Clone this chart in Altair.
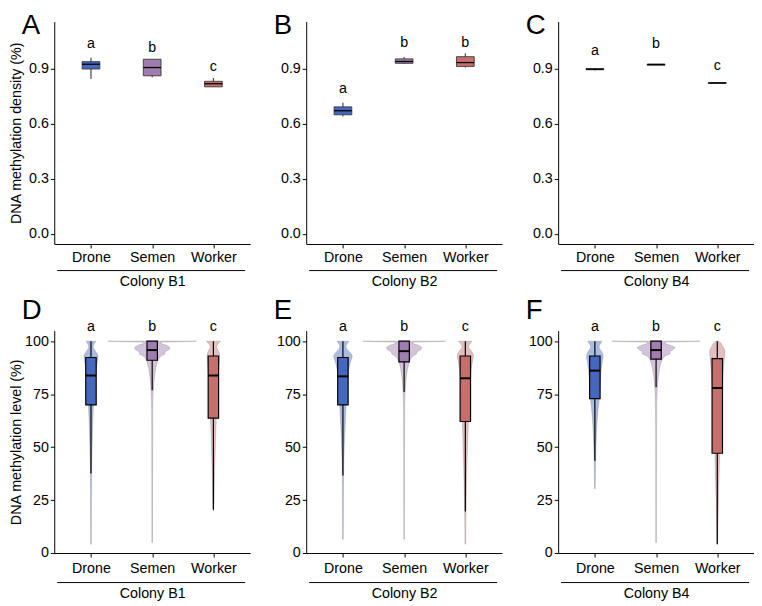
import altair as alt
import pandas as pd

FONT = "Liberation Sans"

categories = ["Drone", "Semen", "Worker"]
colonies = ["Colony B1", "Colony B2", "Colony B4"]
tags_top = ["A", "B", "C"]
tags_bottom = ["D", "E", "F"]
colors = ["#4468bf", "#a07db0", "#c6706e"]

# ---- Top row: DNA methylation density (box statistics), order B1(D,S,W), B2(D,S,W), B4(D,S,W)
dens_lo = [0.843, 0.852, 0.800, 0.639, 0.926, 0.905, 0.889, 0.917, 0.818]
dens_q1 = [0.897, 0.860, 0.800, 0.648, 0.928, 0.911, 0.893, 0.918, 0.819]
dens_med = [0.923, 0.905, 0.817, 0.670, 0.938, 0.932, 0.896, 0.921, 0.821]
dens_q3 = [0.937, 0.950, 0.830, 0.691, 0.952, 0.964, 0.899, 0.924, 0.823]
dens_hi = [0.959, 0.950, 0.848, 0.714, 0.962, 0.982, 0.902, 0.925, 0.824]
dens_letters = ["a", "b", "c", "a", "b", "b", "a", "b", "c"]
dens_letter_y = [1.009, 0.991, 0.884, 0.768, 1.018, 1.018, 0.973, 1.009, 0.892]

# ---- Bottom row: DNA methylation level (box statistics)
lvl_lo = [37.5, 76.8, 20.4, 36.6, 76.0, 19.6, 43.6, 78.3, 4.2]
lvl_q1 = [69.9, 91.0, 63.7, 69.9, 90.2, 62.1, 72.9, 91.5, 47.1]
lvl_med = [83.8, 95.8, 83.8, 83.4, 95.3, 82.5, 86.1, 95.8, 77.9]
lvl_q3 = [92.3, 100.0, 93.0, 92.3, 100.0, 93.0, 93.0, 100.0, 91.8]
lvl_hi = [100.0, 100.0, 100.0, 100.0, 100.0, 100.0, 100.0, 100.0, 100.0]
lvl_letters = ["a", "b", "c", "a", "b", "c", "a", "b", "c"]
lvl_letter_y = [104.6, 104.6, 104.6, 104.6, 104.6, 104.6, 104.6, 104.6, 104.6]

# ---- Violin profiles: half-widths (density) read at these methylation levels
vio_levels = [100, 99.6, 99, 98, 97, 96, 95, 94, 93, 92, 90, 87, 84, 80, 76,
              72, 68, 64, 60, 55, 50, 45, 40, 35, 30, 25, 20, 15, 10, 5]
vio_tail_end = [4.2, 5.0, 20.0, 6.5, 6.5, 4.2, 30.4, 5.0, 4.2]

vio_b1_drone = [4.7, 4.5, 3.5, 2.5, 2.2, 3.5, 5.0, 6.5, 7.2, 7.0, 6.3, 5.5, 5.0, 4.5, 3.8,
                3.0, 2.4, 2.0, 1.7, 1.4, 1.1, 0.9, 0.7, 0.6, 0.5, 0.45, 0.4, 0.4, 0.35, 0.3]
vio_b1_semen = [45, 10, 8, 15, 18, 17, 13, 13, 9, 7, 5, 3.5, 2.5, 1.6, 1.0,
                0.7, 0.55, 0.5, 0.45, 0.45, 0.4, 0.4, 0.4, 0.35, 0.35, 0.35, 0.3, 0.3, 0.3, 0.3]
vio_b1_worker = [7.0, 6.5, 5.0, 3.5, 3.2, 4.5, 5.5, 6.3, 6.5, 6.3, 6.0, 5.5, 5.0, 4.7, 4.3,
                 4.0, 3.5, 3.0, 2.6, 2.2, 1.9, 1.6, 1.3, 1.1, 0.9, 0.7, 0.5, 0, 0, 0]
vio_b2_drone = [5.8, 5.5, 4.5, 3.3, 3.2, 4.5, 6.5, 8.5, 9.5, 9.0, 7.5, 6.0, 5.2, 4.6, 4.0,
                3.5, 3.0, 2.6, 2.2, 1.7, 1.3, 1.0, 0.8, 0.6, 0.5, 0.45, 0.4, 0.4, 0.35, 0]
vio_b2_semen = [42, 10, 8, 15, 18, 17, 13, 12.5, 9, 7, 5, 3.5, 2.5, 1.6, 1.0,
                0.7, 0.55, 0.5, 0.45, 0.45, 0.4, 0.4, 0.4, 0.35, 0.35, 0.35, 0.3, 0.3, 0.3, 0]
vio_b2_worker = [6.7, 6.3, 5.0, 3.5, 3.3, 5.0, 6.5, 8.0, 8.3, 8.0, 7.0, 6.0, 5.4, 5.0, 4.6,
                 4.2, 3.8, 3.3, 2.9, 2.5, 2.2, 1.9, 1.6, 1.3, 1.1, 0.9, 0.7, 0.5, 0.4, 0.35]
vio_b4_drone = [7.0, 6.8, 6.0, 4.5, 4.2, 5.5, 7.0, 8.0, 8.3, 8.3, 7.5, 6.5, 6.0, 5.5, 5.0,
                4.3, 3.3, 2.6, 2.0, 1.5, 1.1, 0.8, 0.6, 0.5, 0, 0, 0, 0, 0, 0]
vio_b4_semen = [44.7, 10, 8, 15, 19.5, 17, 14, 14, 9, 7, 5, 3.5, 2.5, 1.6, 1.0,
                0.7, 0.55, 0.5, 0.45, 0.45, 0.4, 0.4, 0.4, 0.35, 0.35, 0.35, 0.3, 0.3, 0.3, 0.3]
vio_b4_worker = [1.5, 2.5, 3.8, 5.0, 6.3, 7.3, 7.7, 7.7, 7.5, 7.2, 6.8, 6.3, 5.8, 5.4, 5.0,
                 4.6, 4.2, 3.8, 3.4, 3.0, 2.6, 2.3, 2.0, 1.7, 1.4, 1.2, 1.0, 0.8, 0.6, 0.4]
vio_widths = [vio_b1_drone, vio_b1_semen, vio_b1_worker,
              vio_b2_drone, vio_b2_semen, vio_b2_worker,
              vio_b4_drone, vio_b4_semen, vio_b4_worker]

# ---- layout constants
W, H = 199, 226
PX = W / 3.2            # pixels per x unit
BW_TOP = 9.0 / PX       # half box width, top row
BW_BOT = 5.3 / PX       # half box width, bottom row
label_expr = "[" + ",".join("'%s'" % c for c in categories) + "][datum.value - 1]"

color_enc = alt.Color("group:N", scale=alt.Scale(domain=categories, range=colors), legend=None)
fill_enc = alt.Fill("group:N", scale=alt.Scale(domain=categories, range=colors), legend=None)


def xenc(field, title, label_pad, title_y):
    return alt.X(field + ":Q",
                 scale=alt.Scale(domain=[0.4, 3.6], nice=False, zero=False),
                 axis=alt.Axis(values=[1, 2, 3], labelExpr=label_expr, title=title,
                               titleY=title_y, titleBaseline="middle",
                               labelPadding=label_pad, tickSize=4))


def yenc(field, title, domain, values, fmt):
    ax = dict(values=values, format=fmt, labelPadding=2, tickSize=4)
    if title:
        ax.update(title=title, titleX=-38.5, titleBaseline="middle")
    else:
        ax.update(title=None)
    return alt.Y(field + ":Q", scale=alt.Scale(domain=domain, nice=False, zero=False),
                 axis=alt.Axis(**ax))


def top_panel(ci):
    s = slice(3 * ci, 3 * ci + 3)
    df = pd.DataFrame({"group": categories, "pos": [1, 2, 3],
                       "lo": dens_lo[s], "q1": dens_q1[s], "med": dens_med[s],
                       "q3": dens_q3[s], "hi": dens_hi[s],
                       "letter": dens_letters[s], "ly": dens_letter_y[s]})
    ytitle = "DNA methylation density (%)" if ci == 0 else None
    X = lambda f: xenc(f, colonies[ci], 3, 38.5)
    Y = lambda f: yenc(f, ytitle, [-0.055, 1.155], [0, 0.3, 0.6, 0.9], ".1f")
    base = alt.Chart(df).transform_calculate(
        xl="datum.pos - %f" % BW_TOP, xr="datum.pos + %f" % BW_TOP)
    whisk = base.mark_rule(color="#222222", strokeWidth=1).encode(x=X("pos"), y=Y("lo"), y2="hi")
    box = base.mark_rect(stroke="#3a3a3a", strokeWidth=0.9).encode(
        x=X("xl"), x2="xr", y=Y("q1"), y2="q3", color=color_enc)
    med = base.mark_rule(color="black", strokeWidth=1.3).encode(x=X("xl"), x2="xr", y=Y("med"))
    let = base.mark_text(font=FONT, fontSize=14.5, color="black", baseline="alphabetic").encode(
        x=X("pos"), y=Y("ly"), text="letter:N")
    tag = alt.Chart(pd.DataFrame({"tag": [tags_top[ci]]})).mark_text(
        font=FONT, fontSize=28, align="left", baseline="alphabetic", color="black").encode(
        x=alt.value(-33), y=alt.value(13), text="tag:N")
    line = alt.Chart(pd.DataFrame({"k": [0]})).mark_rule(color="black", strokeWidth=1).encode(
        x=alt.value(3), x2=alt.value(W - 5), y=alt.value(H + 27))
    return alt.layer(whisk, box, med, let, tag, line).properties(width=W, height=H)


def violin_layer(ci, X, Y):
    rows = []
    seq = 0
    for gi, g in enumerate(categories):
        k = 3 * ci + gi
        tail = vio_tail_end[k]
        pts = [(tail, 0.3)]
        for lv, w in sorted(zip(vio_levels, vio_widths[k])):
            if lv > tail and w > 0:
                pts.append((lv, w))
        # closed outline: up the left side, down the right side
        for lv, w in pts:
            rows.append({"group": g, "pos": gi + 1, "lvl": lv, "w": w, "side": -1, "seq": seq})
            seq += 1
        for lv, w in reversed(pts):
            rows.append({"group": g, "pos": gi + 1, "lvl": lv, "w": w, "side": 1, "seq": seq})
            seq += 1
    vdf = pd.DataFrame(rows)
    return alt.Chart(vdf).transform_calculate(
        xv="datum.pos + datum.side * datum.w / %f" % PX
    ).mark_line(stroke="#808080", strokeOpacity=0.55, strokeWidth=0.6,
                fillOpacity=0.45, interpolate="linear-closed").encode(
        x=X("xv"), y=Y("lvl"), fill=fill_enc, detail="group:N", order=alt.Order("seq:Q"))


def bottom_panel(ci):
    s = slice(3 * ci, 3 * ci + 3)
    df = pd.DataFrame({"group": categories, "pos": [1, 2, 3],
                       "lo": lvl_lo[s], "q1": lvl_q1[s], "med": lvl_med[s],
                       "q3": lvl_q3[s], "hi": lvl_hi[s],
                       "letter": lvl_letters[s], "ly": lvl_letter_y[s]})
    ytitle = "DNA methylation level (%)" if ci == 0 else None
    X = lambda f: xenc(f, colonies[ci], 4.5, 41.5)
    Y = lambda f: yenc(f, ytitle, [0, 105], [0, 25, 50, 75, 100], "d")
    violin = violin_layer(ci, X, Y)
    base = alt.Chart(df).transform_calculate(
        xl="datum.pos - %f" % BW_BOT, xr="datum.pos + %f" % BW_BOT)
    whisk = base.mark_rule(color="black", strokeWidth=1.2).encode(x=X("pos"), y=Y("lo"), y2="hi")
    box = base.mark_rect(stroke="black", strokeWidth=1.2).encode(
        x=X("xl"), x2="xr", y=Y("q1"), y2="q3", color=color_enc)
    med = base.mark_rule(color="black", strokeWidth=2).encode(x=X("xl"), x2="xr", y=Y("med"))
    let = base.mark_text(font=FONT, fontSize=14.5, color="black", baseline="alphabetic").encode(
        x=X("pos"), y=Y("ly"), text="letter:N")
    tag = alt.Chart(pd.DataFrame({"tag": [tags_bottom[ci]]})).mark_text(
        font=FONT, fontSize=28, align="left", baseline="alphabetic", color="black").encode(
        x=alt.value(-33), y=alt.value(-12), text="tag:N")
    line = alt.Chart(pd.DataFrame({"k": [0]})).mark_rule(color="black", strokeWidth=1).encode(
        x=alt.value(3), x2=alt.value(W - 5), y=alt.value(H + 30))
    return alt.layer(violin, whisk, box, med, let, tag, line).properties(width=W, height=H)


panels = [top_panel(i) for i in range(3)] + [bottom_panel(i) for i in range(3)]

chart = alt.concat(*panels, columns=3, spacing={"row": 88, "column": 57}, bounds="flush").properties(
    padding=0
).configure_view(stroke=None).configure_axis(
    grid=False, domainColor="black", tickColor="black", labelColor="black",
    titleColor="black", labelFont=FONT, titleFont=FONT, labelFontSize=14.5,
    titleFontSize=14.5, titleFontWeight="normal", domainWidth=1, tickWidth=1
)

chart.save("out.html", embed_options={"renderer": "svg", "actions": False})
